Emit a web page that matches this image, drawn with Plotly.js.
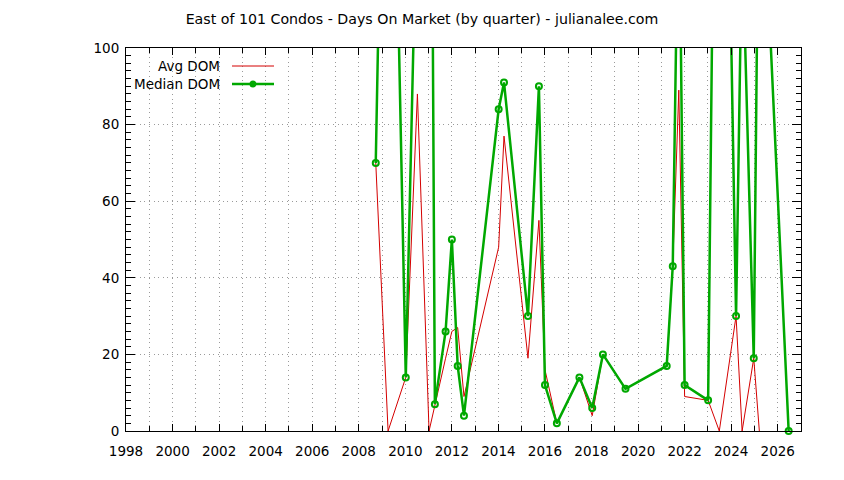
<!DOCTYPE html>
<html>
<head>
<meta charset="utf-8">
<script src="https://cdn.plot.ly/plotly-3.0.1.min.js"></script>
<style>
  html, body { margin: 0; padding: 0; background: #fff; }
  #chart { width: 844px; height: 480px; }
</style>
</head>
<body>
<div id="chart"></div>
<script>
"use strict";

// quarter positions (decimal years)
const quarters = [
    2008.73, 2009.26, 2010.02, 2010.52, 2011.02, 2011.27, 2011.73, 2012.0,
    2012.25, 2012.52, 2014.01, 2014.24, 2015.27, 2015.74, 2016.0, 2016.51,
    2017.48, 2018.03, 2018.49, 2019.46, 2021.23, 2021.49, 2021.75, 2022.0,
    2023.01, 2023.49, 2024.21, 2024.47, 2024.97, 2025.21, 2026.47,
];

const avgDom = [
    70, 0, 14, 88, 0, 7, 19, 26,
    27, 9, 48, 77, 19, 55, 16, 2,
    14, 4, 20, 11, 17, 43, 89, 9,
    8, 0, 30, 0, 19, 0, null,
];

// values above 100 run off the top of the chart
const medianDom = [
    70, 240, 14, 150, 280, 7, 26, 50,
    17, 4, 84, 91, 30, 90, 12, 2,
    14, 6, 20, 11, 17, 43, 150, 12,
    8, 280, 30, 130, 19, 165, 0,
];

const seriesNames = ["Avg DOM", "Median DOM"];
const chartTitle =
    "East of 101 Condos - Days On Market (by quarter) - julianalee.com";

const red = "#d40000";
const green = "#00a800";
const gridColor = "#9a9a9a";
const gridDash = "1px,3.6px";
const font = "DejaVu Sans, sans-serif";

document.addEventListener("DOMContentLoaded", () => {
    const traces = [
        {
            type: "scatter",
            mode: "lines",
            name: seriesNames[0],
            x: quarters,
            y: avgDom,
            line: { color: red, width: 1 },
        },
        {
            type: "scatter",
            mode: "lines+markers",
            name: seriesNames[1],
            x: quarters,
            y: medianDom,
            line: { color: green, width: 2.5 },
            marker: {
                symbol: "circle-open",
                size: 6,
                color: green,
                line: { color: green, width: 2 },
            },
            cliponaxis: false,
        },
    ];

    // gnuplot-style key: text right-aligned, sample to the right
    const px = (v) => (v - 126) / 675;
    const py = (v) => (431 - v) / 383;

    const keyShapes = [
        {
            type: "line", xref: "paper", yref: "paper",
            x0: px(232), x1: px(274), y0: py(66), y1: py(66),
            line: { color: red, width: 1 },
        },
        {
            type: "line", xref: "paper", yref: "paper",
            x0: px(232), x1: px(274), y0: py(84), y1: py(84),
            line: { color: green, width: 2.5 },
        },
        {
            type: "circle", xref: "paper", yref: "paper",
            xsizemode: "pixel", ysizemode: "pixel",
            xanchor: px(253), yanchor: py(84),
            x0: -2.5, x1: 2.5, y0: -2.5, y1: 2.5,
            line: { color: green, width: 2 },
            fillcolor: green,
        },
    ];

    const keyLabels = seriesNames.map((name, i) => ({
        xref: "paper", yref: "paper",
        x: px(222), y: py(66 + i * 18),
        xanchor: "right", yanchor: "middle",
        text: name, showarrow: false,
        font: { family: font, size: 13.5, color: "#000" },
    }));

    const axisCommon = {
        showline: true,
        linecolor: "#000",
        linewidth: 1,
        mirror: "allticks",
        ticks: "inside",
        tickcolor: "#000",
        showgrid: true,
        gridcolor: gridColor,
        griddash: gridDash,
        gridwidth: 1,
        zeroline: false,
        tickfont: { family: font, size: 13.5, color: "#000" },
    };

    const layout = {
        width: 844,
        height: 480,
        paper_bgcolor: "#fff",
        plot_bgcolor: "#fff",
        margin: { t: 48, r: 43, b: 49, l: 126 },
        showlegend: false,
        title: {
            text: chartTitle,
            x: 0.5,
            xanchor: "center",
            y: 1 - 19 / 480,
            yanchor: "middle",
            font: { family: font, size: 14.2, color: "#000" },
        },
        xaxis: {
            ...axisCommon,
            range: [1998, 2027],
            tick0: 1998,
            dtick: 2,
            ticklen: 7,
            ticklabelstandoff: 8,
            minor: {
                dtick: 1,
                ticks: "inside",
                ticklen: 5,
                tickcolor: "#000",
                showgrid: true,
                gridcolor: gridColor,
                griddash: gridDash,
            },
        },
        yaxis: {
            ...axisCommon,
            range: [0, 100],
            tick0: 0,
            dtick: 20,
            ticklen: 9,
            ticklabelstandoff: 3,
            minor: {
                dtick: 2,
                ticks: "inside",
                ticklen: 5,
                tickcolor: "#000",
                showgrid: false,
            },
        },
        shapes: keyShapes,
        annotations: keyLabels,
    };

    Plotly.newPlot("chart", traces, layout, {
        displayModeBar: false,
        staticPlot: true,
    });
});
</script>
</body>
</html>
